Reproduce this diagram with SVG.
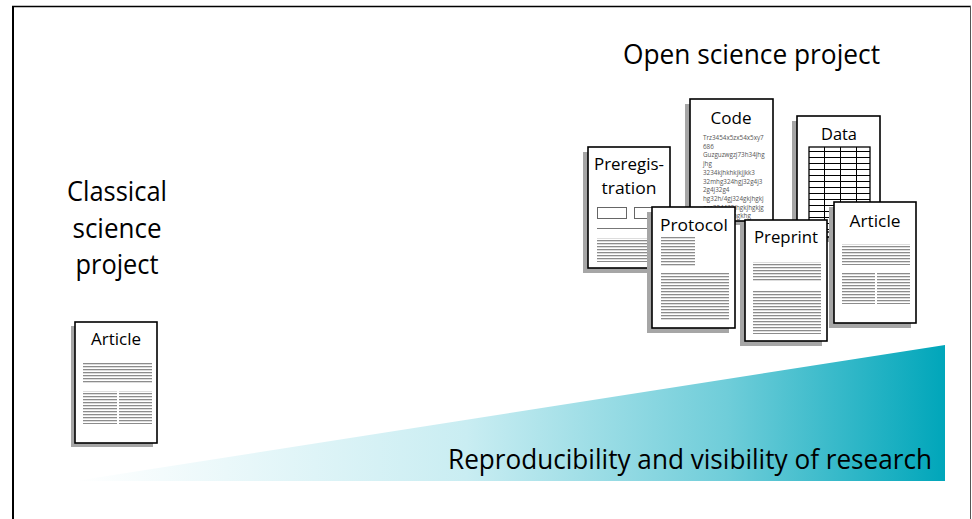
<svg xmlns="http://www.w3.org/2000/svg" width="972" height="519" viewBox="0 0 972 519">
<style>
.page{fill:#fff;stroke:#000;stroke-width:1.6}
.shadow{fill:#a6a6a6}
.big{font-family:"Open Sans","Liberation Sans",sans-serif;font-size:26.5px;fill:#000}
.doc{font-family:"Open Sans","Liberation Sans",sans-serif;font-size:16.5px;fill:#000;text-anchor:middle}
.code{font-family:"Open Sans","Liberation Sans",sans-serif;font-size:6.3px;fill:#555}
.ruled{fill:url(#rule)}
.box{fill:#fff;stroke:#666;stroke-width:1}
.grid{stroke:#000;stroke-width:1;fill:none}
</style>
<defs>
<pattern id="rule" width="6" height="3" patternUnits="userSpaceOnUse"><rect width="6" height="1.3" fill="#8c8c8c"/></pattern>
<linearGradient id="grad" x1="75" y1="0" x2="945" y2="0" gradientUnits="userSpaceOnUse">
<stop offset="0" stop-color="#ffffff"/>
<stop offset="0.45" stop-color="#c9edf2"/>
<stop offset="0.75" stop-color="#6fcdd9"/>
<stop offset="1" stop-color="#00a6ba"/>
</linearGradient>
</defs>
<rect width="972" height="519" fill="#fff"/>
<g id="frame">
<line x1="13" y1="6" x2="13" y2="519" stroke="#000" stroke-width="2"/>
<line x1="12" y1="6.5" x2="971" y2="6.5" stroke="#000" stroke-width="1.5"/>
<line x1="970.5" y1="6" x2="970.5" y2="519" stroke="#555" stroke-width="1"/>
</g>
<g id="wedge">
<polygon points="75,481 945,345 945,481" fill="url(#grad)"/>
<text class="big" x="448" y="469" textLength="484" lengthAdjust="spacingAndGlyphs">Reproducibility and visibility of research</text>
</g>
<g id="classical-title">
<text class="big" x="117" y="201" text-anchor="middle" textLength="100" lengthAdjust="spacingAndGlyphs">Classical</text>
<text class="big" x="117" y="237.5" text-anchor="middle" textLength="89" lengthAdjust="spacingAndGlyphs">science</text>
<text class="big" x="117" y="274" text-anchor="middle" textLength="83" lengthAdjust="spacingAndGlyphs">project</text>
</g>
<g id="open-title">
<text class="big" x="623" y="64" textLength="257" lengthAdjust="spacingAndGlyphs">Open science project</text>
</g>
<g id="classical-article">
<rect class="shadow" x="71" y="326" width="82" height="121"/>
<rect class="page" x="75" y="322" width="82" height="121"/>
<text class="doc" x="116" y="345" textLength="50" lengthAdjust="spacingAndGlyphs">Article</text>
<rect class="ruled" x="83" y="362" width="69" height="21"/>
<rect class="ruled" x="83" y="391" width="34" height="33"/>
<rect class="ruled" x="119" y="391" width="33" height="33"/>
</g>
<g id="code">
<rect class="shadow" x="685" y="104" width="82" height="121"/>
<rect class="page" x="690" y="99" width="83" height="122"/>
<text class="doc" x="731" y="124" textLength="41" lengthAdjust="spacingAndGlyphs">Code</text>
<text class="code" x="703" y="140">Trz3454x5zx54x5xy7</text>
<text class="code" x="703" y="148.7">686</text>
<text class="code" x="703" y="157.4">Guzguzwgzj73h34jhg</text>
<text class="code" x="703" y="166.1">jhg</text>
<text class="code" x="703" y="174.8">3234kjhkhkjkjjkk3</text>
<text class="code" x="703" y="183.5">32mhg324hgj32g4j3</text>
<text class="code" x="703" y="192.2">2g4j32g4</text>
<text class="code" x="703" y="200.9">hg32h/4gj324gkjhgkj</text>
<text class="code" x="703" y="209.6">gzg324432jhgkjhgkjg</text>
<text class="code" x="703" y="218.3">hgkjhgkjk/hgkhg</text>
</g>
<g id="data">
<rect class="shadow" x="792" y="121" width="82" height="121"/>
<rect class="page" x="797" y="116" width="83" height="121"/>
<text class="doc" x="839" y="140" textLength="36" lengthAdjust="spacingAndGlyphs">Data</text>
<rect x="809" y="147" width="61" height="85" fill="#fff" stroke="#000" stroke-width="1.3"/>
<path class="grid" d="M824.5,147V232M840.5,147V232M856.5,147V232M809,151.5H870M809,157.5H870M809,163.5H870M809,169.5H870M809,175.5H870M809,181.5H870M809,187.5H870M809,193.5H870M809,199.5H870M809,205.5H870M809,211.5H870M809,217.5H870M809,223.5H870M809,229.5H870"/>
</g>
<g id="preregistration">
<rect class="shadow" x="583" y="152" width="82" height="121"/>
<rect class="page" x="588" y="147" width="82" height="121"/>
<text class="doc" x="629" y="170" textLength="70" lengthAdjust="spacingAndGlyphs">Preregis-</text>
<text class="doc" x="629" y="194" textLength="55" lengthAdjust="spacingAndGlyphs">tration</text>
<rect class="box" x="597.5" y="207.5" width="29" height="11"/>
<rect class="box" x="634.5" y="207.5" width="28" height="11"/>
<line x1="597" y1="228.5" x2="663" y2="228.5" stroke="#777" stroke-width="1"/>
<rect class="ruled" x="597" y="238" width="66" height="24"/>
</g>
<g id="protocol">
<rect class="shadow" x="647" y="212" width="82" height="121"/>
<rect class="page" x="652" y="207" width="83" height="121"/>
<text class="doc" x="694" y="231" textLength="68" lengthAdjust="spacingAndGlyphs">Protocol</text>
<rect class="ruled" x="661" y="237" width="34" height="30"/>
<rect class="ruled" x="661" y="273" width="68" height="47"/>
</g>
<g id="preprint">
<rect class="shadow" x="740" y="225" width="82" height="121"/>
<rect class="page" x="745" y="220" width="82" height="121"/>
<text class="doc" x="786" y="243" textLength="64" lengthAdjust="spacingAndGlyphs">Preprint</text>
<rect class="ruled" x="753" y="262" width="68" height="20"/>
<rect class="ruled" x="753" y="290" width="68" height="44"/>
</g>
<g id="open-article">
<rect class="shadow" x="829" y="207" width="82" height="121"/>
<rect class="page" x="834" y="202" width="82" height="121"/>
<text class="doc" x="875" y="227" textLength="51" lengthAdjust="spacingAndGlyphs">Article</text>
<rect class="ruled" x="842" y="244" width="68" height="21"/>
<rect class="ruled" x="842" y="272" width="33" height="32"/>
<rect class="ruled" x="877" y="272" width="33" height="32"/>
</g>
</svg>
